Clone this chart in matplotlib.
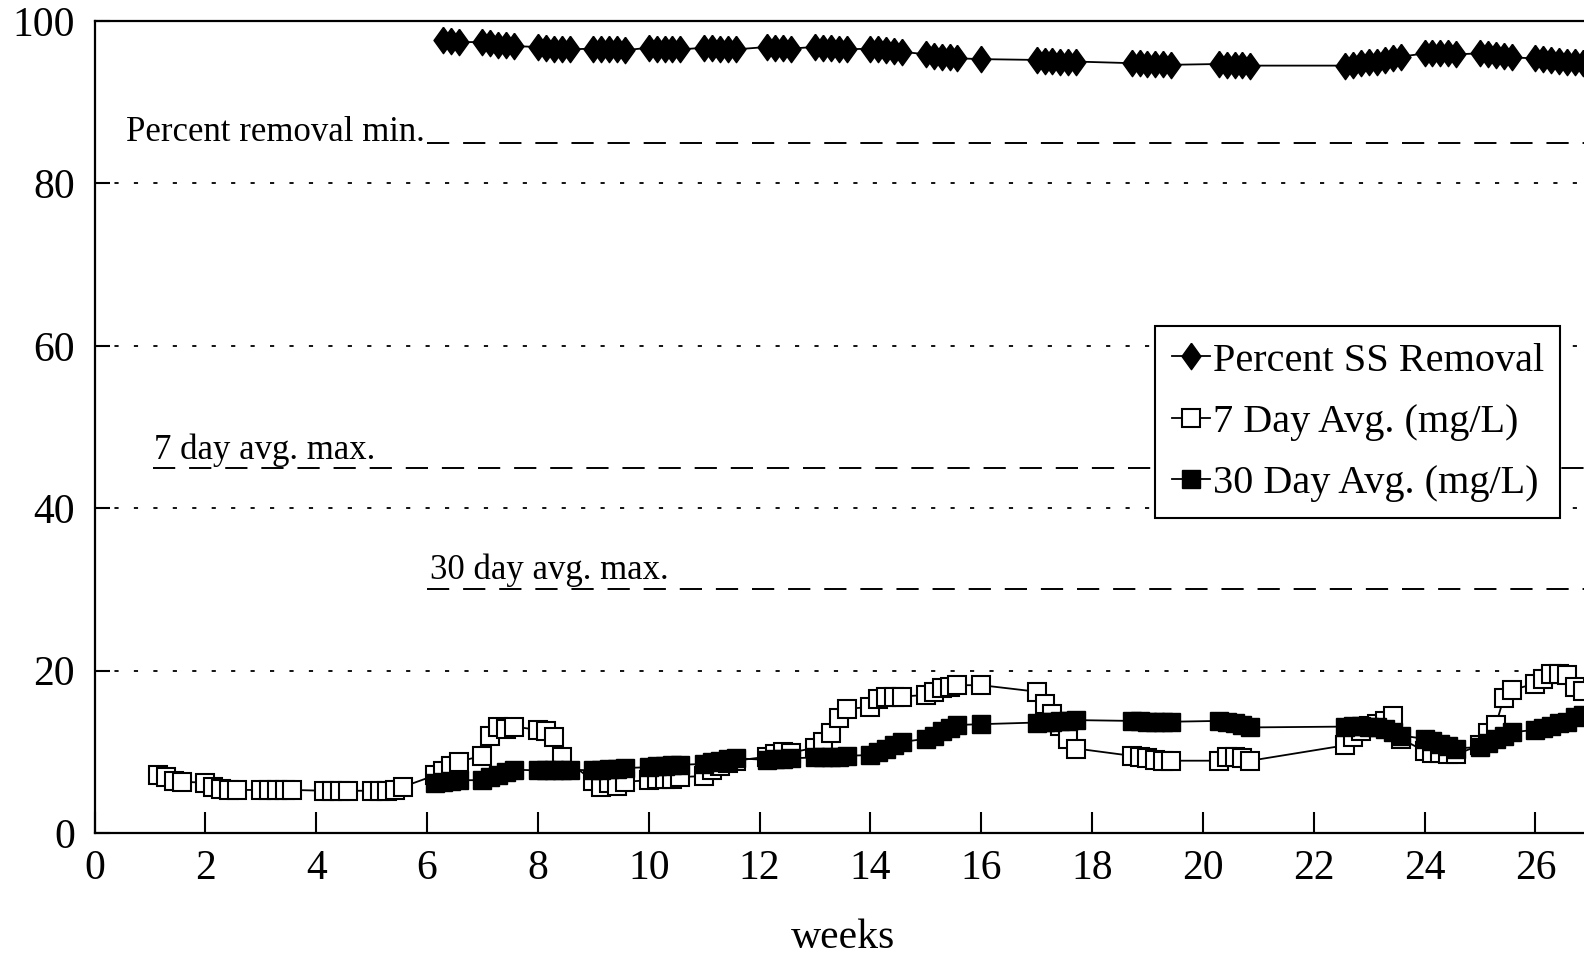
import matplotlib.pyplot as plt

plt.rcParams['font.family'] = ['Liberation Serif', 'DejaVu Serif']
plt.rcParams['lines.scale_dashes'] = False

# readings are daily; x axis is weeks, so day / 7
removal_days = [44, 45, 46,
                49, 50, 51, 52, 53,
                56, 57, 58, 59, 60,
                63, 64, 65, 66, 67,
                70, 71, 72, 73, 74,
                77, 78, 79, 80, 81,
                85, 86, 87, 88,
                91, 92, 93, 94, 95,
                98, 99, 100, 101, 102,
                105, 106, 107, 108, 109,
                112,
                119, 120, 121, 122, 123, 124,
                131, 132, 133, 134, 135, 136,
                142, 143, 144, 145, 146,
                158, 159, 160, 161, 162, 163, 164, 165,
                168, 169, 170, 171, 172,
                175, 176, 177, 178, 179,
                182, 183, 184, 185, 186, 187, 188]
removal_pct = [97.6, 97.5, 97.4,
               97.4, 97.3, 97.1, 97.0, 96.9,
               96.8, 96.7, 96.6, 96.6, 96.5,
               96.6, 96.6, 96.5, 96.5, 96.4,
               96.7, 96.6, 96.6, 96.6, 96.5,
               96.7, 96.7, 96.6, 96.6, 96.5,
               96.8, 96.7, 96.7, 96.6,
               96.8, 96.7, 96.7, 96.6, 96.5,
               96.6, 96.5, 96.4, 96.3, 96.2,
               95.9, 95.7, 95.6, 95.5, 95.4,
               95.3,
               95.2, 95.1, 95.1, 95.0, 95.0, 95.0,
               94.8, 94.8, 94.7, 94.7, 94.7, 94.6,
               94.7, 94.6, 94.6, 94.6, 94.5,
               94.5, 94.6, 94.8, 94.9, 95.0, 95.2, 95.4, 95.6,
               96.0, 96.1, 96.1, 96.1, 95.9,
               96.0, 95.9, 95.8, 95.7, 95.5,
               95.4, 95.3, 95.2, 95.1, 95.0, 94.9, 94.8]

seven_days = [8, 9, 10, 11,
              14, 15, 16, 17, 18,
              21, 22, 23, 24, 25,
              29, 30, 31, 32,
              35, 36, 37, 38, 39,
              43, 44, 45, 46,
              49, 50, 51, 52, 53,
              56, 57, 58, 59,
              63, 64, 65, 66, 67,
              70, 71, 72, 73, 74,
              77, 78, 79, 80, 81,
              85, 86, 87, 88,
              91, 92, 93, 94, 95,
              98, 99, 100, 101, 102,
              105, 106, 107, 108, 109,
              112,
              119, 120, 121, 122, 123, 124,
              131, 132, 133, 134, 135, 136,
              142, 143, 144, 145, 146,
              158, 159, 160, 161, 162, 163, 164, 165,
              168, 169, 170, 171, 172,
              175, 176, 177, 178, 179,
              182, 183, 184, 185, 186, 187, 188]
seven_avg = [7.1, 6.85, 6.4, 6.3,
             6.2, 5.6, 5.4, 5.3, 5.3,
             5.3, 5.3, 5.3, 5.3, 5.3,
             5.2, 5.2, 5.2, 5.2,
             5.2, 5.2, 5.2, 5.3, 5.7,
             7.1, 7.6, 8.2, 8.8,
             9.5, 12.0, 13.1, 12.8, 13.1,
             12.7, 12.6, 11.8, 9.4,
             6.4, 5.7, 6.1, 5.8, 6.3,
             6.5, 6.6, 6.6, 6.7, 6.9,
             7.0, 7.8, 8.3, 8.6, 8.9,
             9.4, 9.7, 10.0, 9.9,
             10.5, 11.2, 12.3, 14.1, 15.3,
             15.5, 16.5, 16.8, 16.8, 16.8,
             17.0, 17.4, 17.8, 18.0, 18.2,
             18.2,
             17.4, 15.9, 14.6, 13.2, 11.6, 10.4,
             9.5, 9.4, 9.2, 9.0, 8.9, 8.9,
             8.9, 9.3, 9.4, 9.2, 8.9,
             10.8, 11.8, 12.5, 13.2, 13.4, 13.8, 14.4, 11.6,
             10.1, 9.9, 9.8, 9.7, 9.7,
             10.8, 12.3, 13.3, 16.6, 17.6,
             18.4, 19.0, 19.6, 19.6, 19.5, 18.0, 17.5]

thirty_days = [43, 44, 45, 46,
               49, 50, 51, 52, 53,
               56, 57, 58, 59, 60,
               63, 64, 65, 66, 67,
               70, 71, 72, 73, 74,
               77, 78, 79, 80, 81,
               85, 86, 87, 88,
               91, 92, 93, 94, 95,
               98, 99, 100, 101, 102,
               105, 106, 107, 108, 109,
               112,
               119, 120, 121, 122, 123, 124,
               131, 132, 133, 134, 135, 136,
               142, 143, 144, 145, 146,
               158, 159, 160, 161, 162, 163, 164, 165,
               168, 169, 170, 171, 172,
               175, 176, 177, 178, 179,
               182, 183, 184, 185, 186, 187, 188]
thirty_avg = [6.2, 6.3, 6.4, 6.5,
              6.5, 6.9, 7.2, 7.5, 7.8,
              7.7, 7.7, 7.7, 7.8, 7.8,
              7.7, 7.8, 7.9, 7.9, 8.0,
              8.1, 8.2, 8.3, 8.4, 8.4,
              8.5, 8.7, 8.9, 9.1, 9.2,
              9.0, 9.1, 9.1, 9.2,
              9.3, 9.4, 9.4, 9.4, 9.5,
              9.6, 10.0, 10.4, 10.8, 11.2,
              11.6, 12.0, 12.5, 12.9, 13.3,
              13.4,
              13.6, 13.7, 13.7, 13.8, 13.8, 13.9,
              13.8, 13.8, 13.7, 13.7, 13.7, 13.7,
              13.8, 13.7, 13.5, 13.3, 13.0,
              13.1, 13.2, 13.2, 13.1, 13.0, 12.8, 12.4, 12.0,
              11.6, 11.3, 11.0, 10.7, 10.4,
              10.6, 11.1, 11.6, 12.0, 12.4,
              12.7, 12.9, 13.2, 13.5, 13.7, 14.3, 14.5]

# permit limits: (label, value, week where the dashed line starts)
limit_labels = ['Percent removal min.', '7 day avg. max.', '30 day avg. max.']
limit_values = [85, 45, 30]
limit_starts = [6.0, 1.05, 6.0]

series_labels = ['Percent SS Removal', '7 Day Avg. (mg/L)', '30 Day Avg. (mg/L)']


def weeks(days):
    return [d / 7 for d in days]


fig = plt.figure(figsize=(15.84, 9.57), dpi=100)
ax = fig.add_axes([0.0597, 0.1296, 0.9446, 0.8485])

diamond = [(0, 1), (0.72, 0), (0, -1), (-0.72, 0), (0, 1)]
ax.plot(weeks(removal_days), removal_pct, color='black', lw=1.3,
        marker=diamond, ms=19, mfc='black', mec='black', label=series_labels[0], zorder=3)
ax.plot(weeks(seven_days), seven_avg, color='black', lw=1.3,
        marker='s', ms=12.5, mfc='white', mec='black', mew=1.5, label=series_labels[1], zorder=4)
ax.plot(weeks(thirty_days), thirty_avg, color='black', lw=1.3,
        marker='s', ms=12.5, mfc='black', mec='black', label=series_labels[2], zorder=5)

for text, val, start in zip(limit_labels, limit_values, limit_starts):
    ax.plot([start, 27], [val, val], color='black', lw=1.4, dashes=(16, 10), zorder=2)

ax.text(limit_starts[0] - 0.05, limit_values[0] + 0.2, limit_labels[0], ha='right', va='baseline', fontsize=25)
ax.text(limit_starts[1] + 0.02, limit_values[1] + 1.1, limit_labels[1], ha='left', va='baseline', fontsize=25)
ax.text(limit_starts[2] + 0.05, limit_values[2] + 1.3, limit_labels[2], ha='left', va='baseline', fontsize=25)

ax.set_xlim(0, 27)
ax.set_ylim(0, 100)
ax.set_xticks(range(0, 27, 2))
ax.set_yticks(range(0, 101, 20))
ax.grid(axis='y', color='black', lw=1.3, dashes=(3, 11))
ax.set_axisbelow(True)
ax.tick_params(axis='both', direction='in', width=1.5, labelsize=30)
ax.tick_params(axis='x', length=15, pad=12)
ax.tick_params(axis='y', length=11, pad=14)
for side in ['left', 'bottom', 'top', 'right']:
    ax.spines[side].set_linewidth(1.6)
ax.set_xlabel('weeks', fontsize=30, labelpad=22)

leg = ax.legend(loc='upper left', bbox_to_anchor=(0.709, 0.624), fontsize=29,
                frameon=True, fancybox=False, edgecolor='black', framealpha=1,
                borderpad=0.4, handlelength=0.95, handletextpad=0.08,
                labelspacing=0.6, borderaxespad=0)
leg.get_frame().set_linewidth(1.5)
leg.set_zorder(10)

fig.savefig('out.png', dpi=100)
